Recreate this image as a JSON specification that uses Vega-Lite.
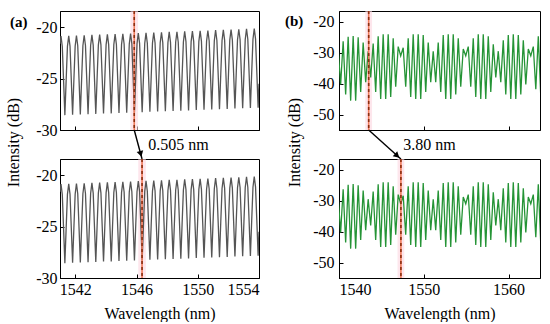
{
"$schema":"https://vega.github.io/schema/vega-lite/v6.json",
"autosize":{"type":"pad"},
"padding":{"left":5,"top":9,"right":0,"bottom":0},
"background":"white",
"config":{
 "font":"Liberation Serif",
 "view":{"stroke":"#000","strokeWidth":1},
 "axis":{"grid":false,"domainColor":"#000","domainWidth":1,"tickColor":"#000","tickWidth":1,"tickSize":-4,"labelPadding":7,"labelColor":"#000","labelFont":"Liberation Serif","labelFontSize":16,"titleFont":"Liberation Serif","titleFontSize":16,"titleFontWeight":"normal","titleColor":"#000","labelOverlap":false,"labelExpr":"'' + datum.value"},
 "title":{"font":"Liberation Serif","fontSize":15,"fontWeight":"bold","color":"#000","anchor":"start","frame":"group"}
},
"datasets":{
"a":[
{"w":1541.0,"p":-21.6},
{"w":1541.065,"p":-20.85},{"w":1541.149,"p":-21.85},{"w":1541.233,"p":-25.15},{"w":1541.318,"p":-28.55},{"w":1541.402,"p":-25.15},{"w":1541.486,"p":-21.85},
{"w":1541.570,"p":-20.82},{"w":1541.654,"p":-21.82},{"w":1541.738,"p":-25.12},{"w":1541.823,"p":-28.52},{"w":1541.907,"p":-25.12},{"w":1541.991,"p":-21.82},
{"w":1542.075,"p":-20.79},{"w":1542.159,"p":-21.79},{"w":1542.243,"p":-25.09},{"w":1542.328,"p":-28.49},{"w":1542.412,"p":-25.09},{"w":1542.496,"p":-21.79},
{"w":1542.580,"p":-20.76},{"w":1542.664,"p":-21.76},{"w":1542.748,"p":-25.06},{"w":1542.833,"p":-28.46},{"w":1542.917,"p":-25.06},{"w":1543.001,"p":-21.76},
{"w":1543.085,"p":-20.73},{"w":1543.169,"p":-21.73},{"w":1543.253,"p":-25.03},{"w":1543.338,"p":-28.43},{"w":1543.422,"p":-25.03},{"w":1543.506,"p":-21.73},
{"w":1543.590,"p":-20.70},{"w":1543.674,"p":-21.70},{"w":1543.758,"p":-25.00},{"w":1543.843,"p":-28.40},{"w":1543.927,"p":-25.00},{"w":1544.011,"p":-21.70},
{"w":1544.095,"p":-20.68},{"w":1544.179,"p":-21.68},{"w":1544.263,"p":-24.98},{"w":1544.348,"p":-28.38},{"w":1544.432,"p":-24.98},{"w":1544.516,"p":-21.68},
{"w":1544.600,"p":-20.65},{"w":1544.684,"p":-21.65},{"w":1544.768,"p":-24.95},{"w":1544.853,"p":-28.35},{"w":1544.937,"p":-24.95},{"w":1545.021,"p":-21.65},
{"w":1545.105,"p":-20.62},{"w":1545.189,"p":-21.62},{"w":1545.273,"p":-24.92},{"w":1545.358,"p":-28.32},{"w":1545.442,"p":-24.92},{"w":1545.526,"p":-21.62},
{"w":1545.610,"p":-20.59},{"w":1545.694,"p":-21.59},{"w":1545.778,"p":-24.89},{"w":1545.863,"p":-28.29},{"w":1545.947,"p":-24.89},{"w":1546.031,"p":-21.59},
{"w":1546.115,"p":-20.56},{"w":1546.199,"p":-21.56},{"w":1546.283,"p":-24.86},{"w":1546.368,"p":-28.26},{"w":1546.452,"p":-24.86},{"w":1546.536,"p":-21.56},
{"w":1546.620,"p":-20.53},{"w":1546.704,"p":-21.53},{"w":1546.788,"p":-24.83},{"w":1546.873,"p":-28.23},{"w":1546.957,"p":-24.83},{"w":1547.041,"p":-21.53},
{"w":1547.125,"p":-20.50},{"w":1547.209,"p":-21.50},{"w":1547.293,"p":-24.80},{"w":1547.378,"p":-28.20},{"w":1547.462,"p":-24.80},{"w":1547.546,"p":-21.50},
{"w":1547.630,"p":-20.47},{"w":1547.714,"p":-21.47},{"w":1547.798,"p":-24.77},{"w":1547.883,"p":-28.17},{"w":1547.967,"p":-24.77},{"w":1548.051,"p":-21.47},
{"w":1548.135,"p":-20.44},{"w":1548.219,"p":-21.44},{"w":1548.303,"p":-24.74},{"w":1548.388,"p":-28.14},{"w":1548.472,"p":-24.74},{"w":1548.556,"p":-21.44},
{"w":1548.640,"p":-20.42},{"w":1548.724,"p":-21.42},{"w":1548.808,"p":-24.72},{"w":1548.893,"p":-28.12},{"w":1548.977,"p":-24.72},{"w":1549.061,"p":-21.42},
{"w":1549.145,"p":-20.39},{"w":1549.229,"p":-21.39},{"w":1549.313,"p":-24.69},{"w":1549.398,"p":-28.09},{"w":1549.482,"p":-24.69},{"w":1549.566,"p":-21.39},
{"w":1549.650,"p":-20.36},{"w":1549.734,"p":-21.36},{"w":1549.818,"p":-24.66},{"w":1549.903,"p":-28.06},{"w":1549.987,"p":-24.66},{"w":1550.071,"p":-21.36},
{"w":1550.155,"p":-20.33},{"w":1550.239,"p":-21.33},{"w":1550.323,"p":-24.63},{"w":1550.408,"p":-28.03},{"w":1550.492,"p":-24.63},{"w":1550.576,"p":-21.33},
{"w":1550.660,"p":-20.30},{"w":1550.744,"p":-21.30},{"w":1550.828,"p":-24.60},{"w":1550.913,"p":-28.00},{"w":1550.997,"p":-24.60},{"w":1551.081,"p":-21.30},
{"w":1551.165,"p":-20.27},{"w":1551.249,"p":-21.27},{"w":1551.333,"p":-24.57},{"w":1551.418,"p":-27.97},{"w":1551.502,"p":-24.57},{"w":1551.586,"p":-21.27},
{"w":1551.670,"p":-20.24},{"w":1551.754,"p":-21.24},{"w":1551.838,"p":-24.54},{"w":1551.923,"p":-27.94},{"w":1552.007,"p":-24.54},{"w":1552.091,"p":-21.24},
{"w":1552.175,"p":-20.21},{"w":1552.259,"p":-21.21},{"w":1552.343,"p":-24.51},{"w":1552.428,"p":-27.91},{"w":1552.512,"p":-24.51},{"w":1552.596,"p":-21.21},
{"w":1552.680,"p":-20.18},{"w":1552.764,"p":-21.18},{"w":1552.848,"p":-24.48},{"w":1552.933,"p":-27.88},{"w":1553.017,"p":-24.48},{"w":1553.101,"p":-21.18},
{"w":1553.185,"p":-20.15},{"w":1553.269,"p":-21.15},{"w":1553.353,"p":-24.45},{"w":1553.438,"p":-27.85},{"w":1553.522,"p":-24.45},{"w":1553.606,"p":-21.15},
{"w":1553.690,"p":-20.12},{"w":1553.774,"p":-21.12},{"w":1553.858,"p":-24.42},{"w":1553.943,"p":-27.82},{"w":1554.0,"p":-25.5}
],
"b":[
{"w":1539.900,"p":-28.8},{"w":1540.195,"p":-40.3},{"w":1540.490,"p":-26.3},{"w":1540.785,"p":-43.5},
{"w":1541.080,"p":-24.8},{"w":1541.375,"p":-45.5},{"w":1541.670,"p":-24.6},{"w":1541.965,"p":-45.5},
{"w":1542.260,"p":-25.0},{"w":1542.555,"p":-42.7},{"w":1542.850,"p":-26.7},{"w":1543.145,"p":-39.5},
{"w":1543.440,"p":-29.5},{"w":1543.735,"p":-38.0},{"w":1544.030,"p":-27.0},{"w":1544.325,"p":-42.7},
{"w":1544.620,"p":-24.7},{"w":1544.915,"p":-45.0},{"w":1545.210,"p":-24.0},{"w":1545.505,"p":-45.0},
{"w":1545.800,"p":-24.0},{"w":1546.095,"p":-44.3},{"w":1546.390,"p":-25.3},{"w":1546.685,"p":-41.0},
{"w":1546.980,"p":-28.0},{"w":1547.275,"p":-31.0},{"w":1547.570,"p":-28.4},{"w":1547.865,"p":-41.0},
{"w":1548.160,"p":-25.3},{"w":1548.455,"p":-44.3},{"w":1548.750,"p":-24.0},{"w":1549.045,"p":-45.0},
{"w":1549.340,"p":-24.0},{"w":1549.635,"p":-45.0},{"w":1549.930,"p":-24.3},{"w":1550.225,"p":-42.7},
{"w":1550.520,"p":-26.7},{"w":1550.815,"p":-39.5},{"w":1551.110,"p":-29.5},{"w":1551.405,"p":-39.5},
{"w":1551.700,"p":-26.7},{"w":1551.995,"p":-42.7},{"w":1552.290,"p":-24.3},{"w":1552.585,"p":-45.0},
{"w":1552.880,"p":-24.0},{"w":1553.175,"p":-45.0},{"w":1553.470,"p":-24.0},{"w":1553.765,"p":-43.5},
{"w":1554.060,"p":-25.3},{"w":1554.355,"p":-41.0},{"w":1554.650,"p":-28.8},{"w":1554.945,"p":-31.0},
{"w":1555.240,"p":-28.0},{"w":1555.535,"p":-41.0},{"w":1555.830,"p":-25.3},{"w":1556.125,"p":-44.3},
{"w":1556.420,"p":-24.0},{"w":1556.715,"p":-45.0},{"w":1557.010,"p":-24.0},{"w":1557.305,"p":-45.0},
{"w":1557.600,"p":-24.7},{"w":1557.895,"p":-42.7},{"w":1558.190,"p":-27.3},{"w":1558.485,"p":-38.0},
{"w":1558.780,"p":-29.5},{"w":1559.075,"p":-39.5},{"w":1559.370,"p":-26.0},{"w":1559.665,"p":-43.5},
{"w":1559.960,"p":-24.3},{"w":1560.255,"p":-45.0},{"w":1560.550,"p":-24.0},{"w":1560.845,"p":-45.0},
{"w":1561.140,"p":-24.3},{"w":1561.435,"p":-43.5},{"w":1561.730,"p":-26.0},{"w":1562.025,"p":-40.3},
{"w":1562.320,"p":-28.8},{"w":1562.615,"p":-31.0},{"w":1562.910,"p":-28.0},{"w":1563.205,"p":-41.8},
{"w":1563.500,"p":-24.7},{"w":1563.795,"p":-44.3}
]
},
"columns":2,
"spacing":{"row":29,"column":80},
"bounds":"flush",
"concat":[
{
 "width":199,"height":119,
 "title":{"text":"(a)","offset":-20,"dx":-50},
 "layer":[
  {"data":{"values":[{"w":1545.6,"w2":1546.1}]},"mark":{"type":"rect","color":"#fbd6e0","opacity":0.6},
   "encoding":{"x":{"field":"w","type":"quantitative","scale":{"domain":[1541,1554]}},"x2":{"field":"w2"}}},
  {"data":{"name":"a"},"mark":{"type":"line","color":"#555555","strokeWidth":1.3,"clip":true},
   "encoding":{"x":{"field":"w","type":"quantitative","scale":{"domain":[1541,1554]},"axis":{"values":[1542,1546,1550,1554],"labels":false,"title":null}},
               "y":{"field":"p","type":"quantitative","scale":{"domain":[-30,-18.4]},"axis":{"values":[-30,-25,-20],"title":"Intensity (dB)","titleY":131,"titlePadding":14}}}},
  {"data":{"values":[{"w":1545.85}]},"mark":{"type":"rule","color":"#f07a5a","strokeWidth":1.6},
   "encoding":{"x":{"field":"w","type":"quantitative","scale":{"domain":[1541,1554]}}}},
  {"data":{"values":[{"w":1545.85}]},"mark":{"type":"rule","color":"#8b2e10","strokeWidth":1.6,"strokeDash":[3,3]},
   "encoding":{"x":{"field":"w","type":"quantitative","scale":{"domain":[1541,1554]}}}},
  {"data":{"values":[{"w":1545.85,"p":-30,"w2":1546.36,"p2":-32.83}]},"mark":{"type":"rule","color":"#000","strokeWidth":1.4,"clip":false},
   "encoding":{"x":{"field":"w","type":"quantitative","scale":{"domain":[1541,1554]}},"y":{"field":"p","type":"quantitative","scale":{"domain":[-30,-18.4]}},"x2":{"field":"w2"},"y2":{"field":"p2"}}},
  {"data":{"values":[{"w":1546.27,"p":-32.34}]},"mark":{"type":"point","shape":"triangle-down","filled":true,"color":"#000","opacity":1,"size":45,"angle":-15,"clip":false},
   "encoding":{"x":{"field":"w","type":"quantitative","scale":{"domain":[1541,1554]}},"y":{"field":"p","type":"quantitative","scale":{"domain":[-30,-18.4]}}}},
  {"data":{"values":[{"w":1548.74,"p":-31.46,"t":"0.505 nm"}]},"mark":{"type":"text","fontSize":16,"font":"Liberation Serif","color":"#000","baseline":"middle","align":"center","clip":false},
   "encoding":{"x":{"field":"w","type":"quantitative","scale":{"domain":[1541,1554]}},"y":{"field":"p","type":"quantitative","scale":{"domain":[-30,-18.4]}},"text":{"field":"t"}}}
 ]
},
{
 "width":201,"height":119,
 "title":{"text":"(b)","offset":-19,"dx":-54},
 "layer":[
  {"data":{"values":[{"w":1543.1,"w2":1543.9}]},"mark":{"type":"rect","color":"#fbd6e0","opacity":0.6},
   "encoding":{"x":{"field":"w","type":"quantitative","scale":{"domain":[1540,1563.7]}},"x2":{"field":"w2"}}},
  {"data":{"name":"b"},"mark":{"type":"line","color":"#259436","strokeWidth":1.3,"clip":true},
   "encoding":{"x":{"field":"w","type":"quantitative","scale":{"domain":[1540,1563.7]},"axis":{"values":[1540,1550,1560],"labels":false,"title":null}},
               "y":{"field":"p","type":"quantitative","scale":{"domain":[-55,-16.5]},"axis":{"values":[-50,-40,-30,-20],"title":"Intensity (dB)","titleY":131,"titlePadding":10,"labelPadding":9,"labelOverlap":false,"labelBound":false,"labelFlush":false}}}},
  {"data":{"values":[{"w":1543.5}]},"mark":{"type":"rule","color":"#f07a5a","strokeWidth":1.6},
   "encoding":{"x":{"field":"w","type":"quantitative","scale":{"domain":[1540,1563.7]}}}},
  {"data":{"values":[{"w":1543.5}]},"mark":{"type":"rule","color":"#8b2e10","strokeWidth":1.6,"strokeDash":[3,3]},
   "encoding":{"x":{"field":"w","type":"quantitative","scale":{"domain":[1540,1563.7]}}}},
  {"data":{"values":[{"w":1543.5,"p":-55,"w2":1547.3,"p2":-64.39}]},"mark":{"type":"rule","color":"#000","strokeWidth":1.4,"clip":false},
   "encoding":{"x":{"field":"w","type":"quantitative","scale":{"domain":[1540,1563.7]}},"y":{"field":"p","type":"quantitative","scale":{"domain":[-55,-16.5]},"axis":{"values":[-50,-40,-30,-20],"labelOverlap":false}},"x2":{"field":"w2"},"y2":{"field":"p2"}}},
  {"data":{"values":[{"w":1546.86,"p":-63.31}]},"mark":{"type":"point","shape":"triangle-down","filled":true,"color":"#000","opacity":1,"size":45,"angle":-48,"clip":false},
   "encoding":{"x":{"field":"w","type":"quantitative","scale":{"domain":[1540,1563.7]}},"y":{"field":"p","type":"quantitative","scale":{"domain":[-55,-16.5]},"axis":{"values":[-50,-40,-30,-20],"labelOverlap":false}}}},
  {"data":{"values":[{"w":1550.67,"p":-59.85,"t":"3.80 nm"}]},"mark":{"type":"text","fontSize":16,"font":"Liberation Serif","color":"#000","baseline":"middle","align":"center","clip":false},
   "encoding":{"x":{"field":"w","type":"quantitative","scale":{"domain":[1540,1563.7]}},"y":{"field":"p","type":"quantitative","scale":{"domain":[-55,-16.5]},"axis":{"values":[-50,-40,-30,-20],"labelOverlap":false}},"text":{"field":"t"}}}
 ]
},
{
 "width":199,"height":119,
 "layer":[
  {"data":{"values":[{"w":1546.11,"w2":1546.61}]},"mark":{"type":"rect","color":"#fbd6e0","opacity":0.6},
   "encoding":{"x":{"field":"w","type":"quantitative","scale":{"domain":[1541,1554]}},"x2":{"field":"w2"}}},
  {"data":{"name":"a"},"mark":{"type":"line","color":"#555555","strokeWidth":1.3,"clip":true},
   "encoding":{"x":{"field":"w","type":"quantitative","scale":{"domain":[1541,1554]},"axis":{"values":[1542,1546,1550,1554],"title":"Wavelength (nm)","titlePadding":8}},
               "y":{"field":"p","type":"quantitative","scale":{"domain":[-30,-18.4]},"axis":{"values":[-30,-25,-20],"title":null}}}},
  {"data":{"values":[{"w":1546.36}]},"mark":{"type":"rule","color":"#f07a5a","strokeWidth":1.6},
   "encoding":{"x":{"field":"w","type":"quantitative","scale":{"domain":[1541,1554]}}}},
  {"data":{"values":[{"w":1546.36}]},"mark":{"type":"rule","color":"#8b2e10","strokeWidth":1.6,"strokeDash":[3,3]},
   "encoding":{"x":{"field":"w","type":"quantitative","scale":{"domain":[1541,1554]}}}}
 ]
},
{
 "width":201,"height":119,
 "layer":[
  {"data":{"values":[{"w":1546.9,"w2":1547.7}]},"mark":{"type":"rect","color":"#fbd6e0","opacity":0.6},
   "encoding":{"x":{"field":"w","type":"quantitative","scale":{"domain":[1540,1563.7]}},"x2":{"field":"w2"}}},
  {"data":{"name":"b"},"mark":{"type":"line","color":"#259436","strokeWidth":1.3,"clip":true},
   "encoding":{"x":{"field":"w","type":"quantitative","scale":{"domain":[1540,1563.7]},"axis":{"values":[1540,1550,1560],"title":"Wavelength (nm)","titlePadding":8}},
               "y":{"field":"p","type":"quantitative","scale":{"domain":[-55,-16.5]},"axis":{"values":[-50,-40,-30,-20],"title":null,"labelPadding":9}}}},
  {"data":{"values":[{"w":1547.3}]},"mark":{"type":"rule","color":"#f07a5a","strokeWidth":1.6},
   "encoding":{"x":{"field":"w","type":"quantitative","scale":{"domain":[1540,1563.7]}}}},
  {"data":{"values":[{"w":1547.3}]},"mark":{"type":"rule","color":"#8b2e10","strokeWidth":1.6,"strokeDash":[3,3]},
   "encoding":{"x":{"field":"w","type":"quantitative","scale":{"domain":[1540,1563.7]}}}}
 ]
}
]
}
